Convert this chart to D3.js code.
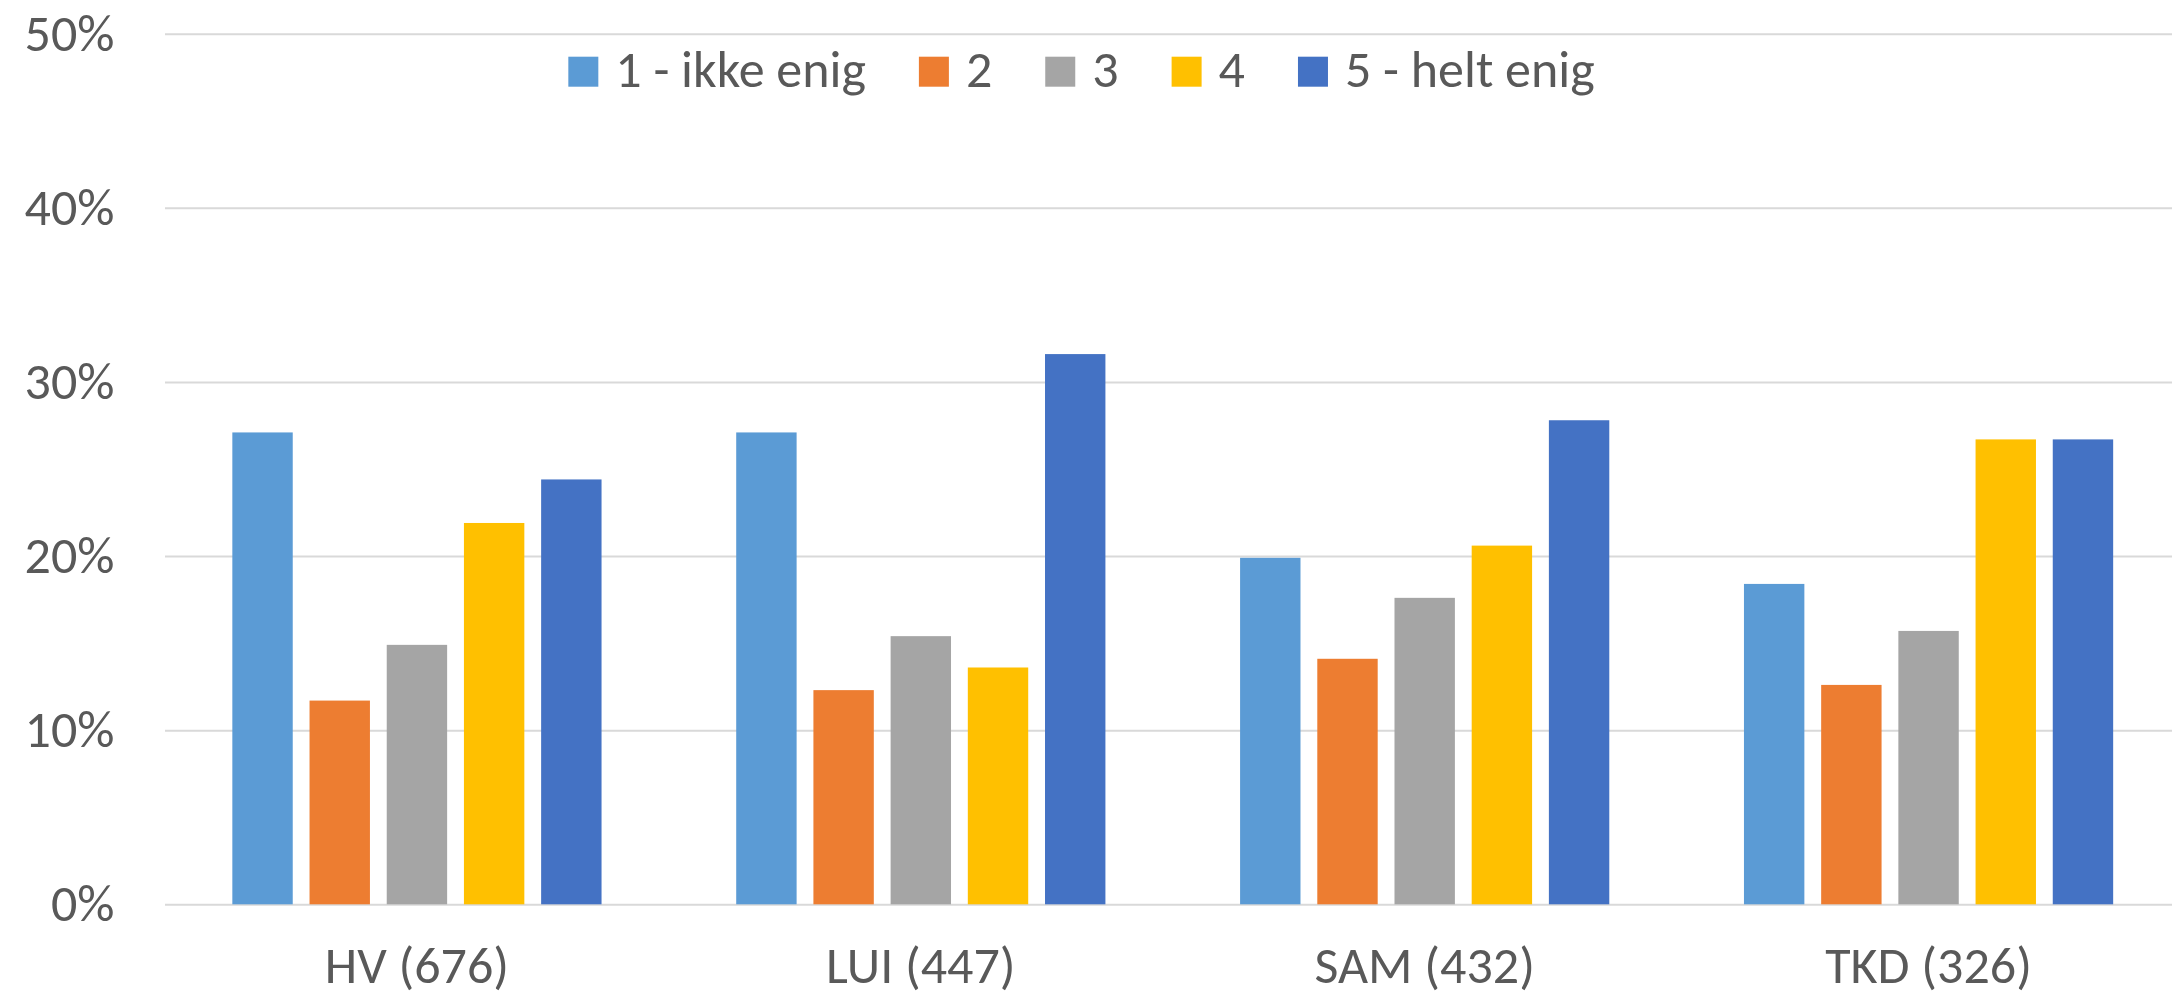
<!DOCTYPE html>
<html>
<head>
<meta charset="utf-8">
<script src="https://cdn.jsdelivr.net/npm/d3@7"></script>
<style>
  html, body { margin: 0; padding: 0; background: #ffffff; }
  svg { display: block; }
  text { font-family: Carlito, "Open Sans", "Noto Sans", sans-serif; fill: #595959; }
</style>
</head>
<body>
<svg id="chart" width="2172" height="999"></svg>
<script>
// Survey groups (with number of respondents) along the x axis
const categories = ["HV (676)", "LUI (447)", "SAM (432)", "TKD (326)"];

// Answer scale, one series per answer
const seriesNames = ["1 - ikke enig", "2", "3", "4", "5 - helt enig"];
const seriesColors = ["#5B9BD5", "#ED7D31", "#A5A5A5", "#FFC000", "#4472C4"];

// Share of respondents (%) per group, in series order
const valuesHV  = [27.1, 11.7, 14.9, 21.9, 24.4];
const valuesLUI = [27.1, 12.3, 15.4, 13.6, 31.6];
const valuesSAM = [19.9, 14.1, 17.6, 20.6, 27.8];
const valuesTKD = [18.4, 12.6, 15.7, 26.7, 26.7];

const yTicks = [0, 0.1, 0.2, 0.3, 0.4, 0.5];

const groups = [valuesHV, valuesLUI, valuesSAM, valuesTKD];
const rows = categories.map((c, i) => ({
  category: c,
  bars: seriesNames.map((s, j) => ({ series: s, value: groups[i][j] / 100 }))
}));

const svg = d3.select("#chart");
const fontSize = 52;

// Plot area (runs slightly past the right edge of the canvas)
const plot = { left: 165, right: 2180.5, top: 33.7, bottom: 904.3 };

const x0 = d3.scaleBand()
  .domain(categories)
  .range([plot.left, plot.right])
  .padding(0);

const groupWidth = 369.2;
const x1 = d3.scaleBand()
  .domain(seriesNames)
  .range([0, groupWidth])
  .paddingInner(0.2176)
  .paddingOuter(0);

const y = d3.scaleLinear()
  .domain([0, 0.5])
  .range([plot.bottom, plot.top]);

const color = d3.scaleOrdinal().domain(seriesNames).range(seriesColors);

// Gridlines and percentage labels
const yAxis = d3.axisLeft(y)
  .tickValues(yTicks)
  .tickFormat(d3.format(".0%"))
  .tickSizeInner(-(plot.right - plot.left))
  .tickSizeOuter(0)
  .tickPadding(50.5);

const gy = svg.append("g")
  .attr("transform", `translate(${plot.left},0)`)
  .call(yAxis);
gy.select(".domain").remove();
gy.selectAll(".tick line")
  .attr("stroke", "#d9d9d9")
  .attr("stroke-width", 2);
gy.selectAll(".tick text")
  .attr("font-size", fontSize)
  .attr("dy", "0.32em")
  .style("font-family", null);

// Bars
const groupOffset = (x0.bandwidth() - groupWidth) / 2;
svg.append("g")
  .selectAll("g")
  .data(rows)
  .join("g")
  .attr("transform", d => `translate(${x0(d.category) + groupOffset},0)`)
  .selectAll("rect")
  .data(d => d.bars)
  .join("rect")
  .attr("x", d => x1(d.series))
  .attr("width", x1.bandwidth())
  .attr("y", d => y(d.value))
  .attr("height", d => y(0) - y(d.value))
  .attr("fill", d => color(d.series));

// Category labels
const xAxis = d3.axisBottom(x0).tickSize(0).tickPadding(0);
const gx = svg.append("g")
  .attr("transform", `translate(0,${plot.bottom})`)
  .call(xAxis);
gx.select(".domain").remove();
gx.selectAll(".tick text")
  .attr("font-size", fontSize)
  .attr("y", 79)
  .attr("dy", 0)
  .style("font-family", null);

// Legend, centred above the plot
const legend = svg.append("g");
const items = legend.selectAll("g")
  .data(seriesNames)
  .join("g");
items.append("rect")
  .attr("width", 30)
  .attr("height", 30)
  .attr("y", 56.7)
  .attr("fill", d => color(d));
items.append("text")
  .attr("x", 47)
  .attr("y", 87)
  .attr("font-size", fontSize)
  .text(d => d);

let cursor = 0;
items.each(function () {
  const g = d3.select(this);
  g.attr("transform", `translate(${cursor},0)`);
  const w = g.select("text").node().getComputedTextLength();
  cursor += 47 + w + 53;
});
const legendWidth = cursor - 53;
legend.attr("transform", `translate(${1081.5 - legendWidth / 2},0)`);
</script>
</body>
</html>
